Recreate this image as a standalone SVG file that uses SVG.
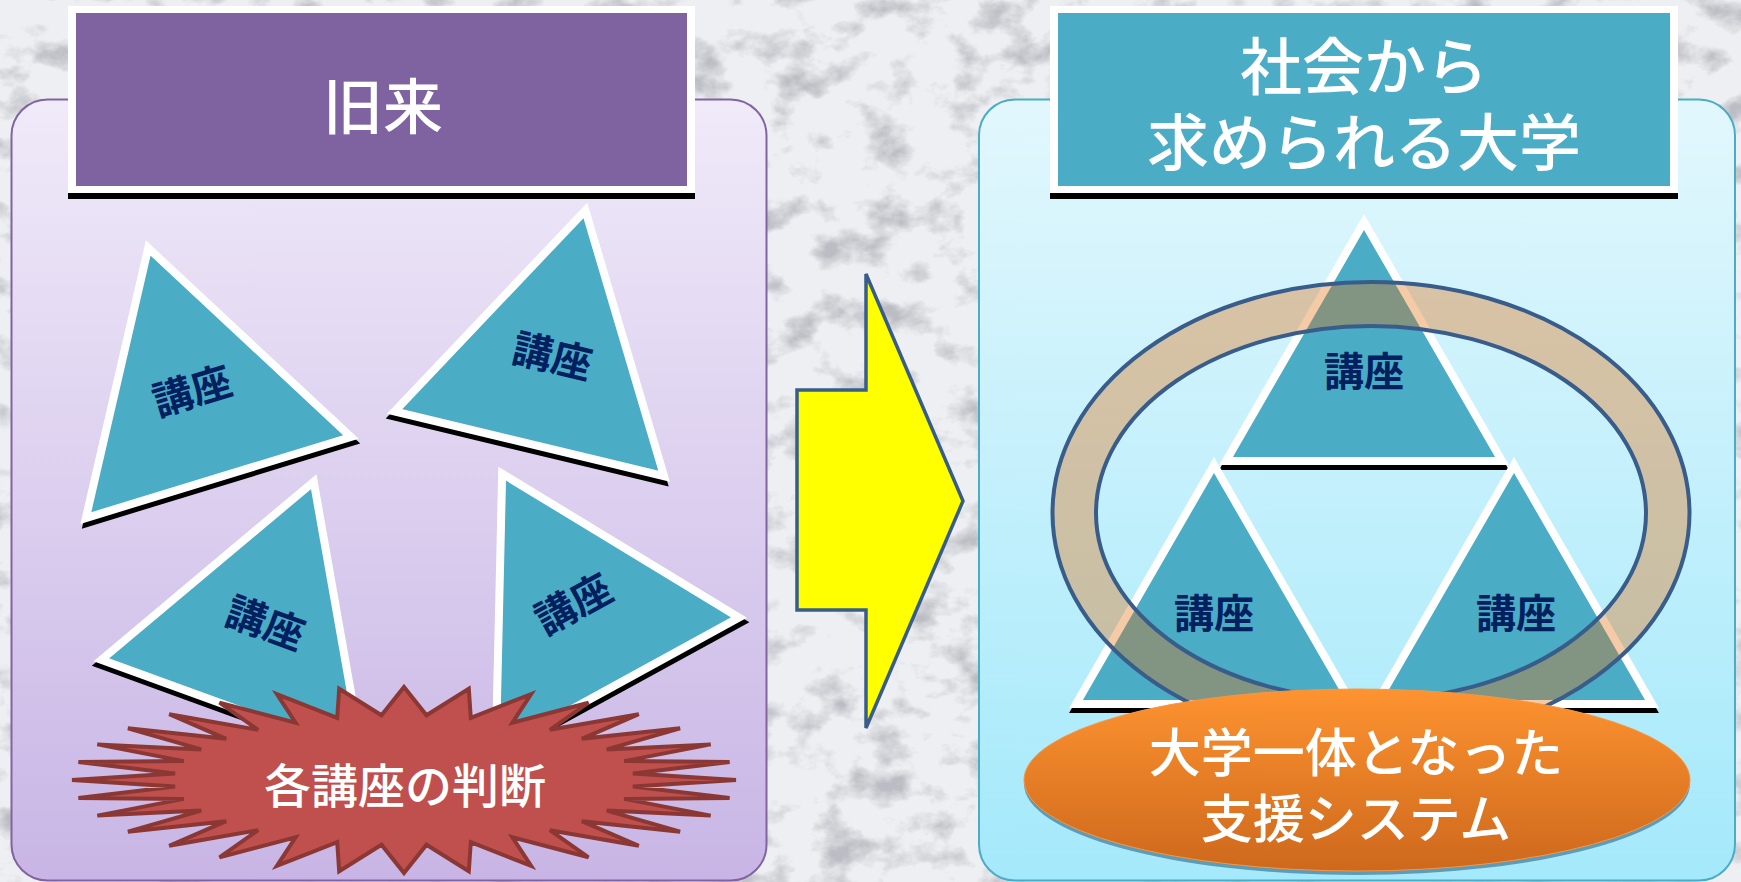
<svg xmlns="http://www.w3.org/2000/svg" width="1741" height="882" viewBox="0 0 1741 882">
<style>
.ttl{font-family:"Noto Sans CJK JP","Noto Sans CJK SC",sans-serif;font-weight:500;fill:#fff;text-anchor:middle}
.kz{font-family:"Noto Sans CJK JP","Noto Sans CJK SC",sans-serif;font-weight:bold;font-size:40px;fill:#002060;text-anchor:middle}
.tri{fill:#4BACC6;stroke:#fff;stroke-width:8;stroke-linejoin:miter}
.sh{fill:#000;stroke:#000;stroke-width:8;stroke-linejoin:miter}
.ring{fill:none;stroke:#385D8A;stroke-width:4}
</style>
<defs>
<linearGradient id="gL" x1="0" y1="0" x2="0" y2="1"><stop offset="0" stop-color="#F0EAF9"/><stop offset="1" stop-color="#C8B5E5"/></linearGradient>
<linearGradient id="gR" x1="0" y1="0" x2="0" y2="1"><stop offset="0" stop-color="#E2F7FD"/><stop offset="1" stop-color="#A4E9FB"/></linearGradient>
<linearGradient id="gO" x1="0" y1="0" x2="0" y2="1"><stop offset="0" stop-color="#FD9330"/><stop offset="1" stop-color="#CE681C"/></linearGradient>
<filter id="marble" x="0" y="0" width="1" height="1">
<feTurbulence type="fractalNoise" baseFrequency="0.022 0.03" numOctaves="5" seed="5"/>
<feColorMatrix type="matrix" values="0 0 0 0 0.50  0 0 0 0 0.51  0 0 0 0 0.55  -3.2 0 0 0 1.62"/>
</filter>
<polygon id="t" points="0,-160 138.6,80 -138.6,80"/>
<polygon id="t2" points="0,-159.3 138,79.6 -138,79.6"/>
</defs>
<rect width="1741" height="882" fill="#EEEFF2"/>
<rect width="1741" height="882" filter="url(#marble)"/>

<g id="left-panel">
<rect x="11.5" y="99.5" width="755" height="781" rx="36" fill="url(#gL)" stroke="#8064A2" stroke-width="2"/>
</g>
<g id="right-panel">
<rect x="979" y="99.5" width="756" height="781" rx="36" fill="url(#gR)" stroke="#4BACC6" stroke-width="2"/>
</g>

<g id="title-left">
<rect x="68" y="12" width="627" height="187" fill="#000"/>
<rect x="68" y="6" width="627" height="187" fill="#fff"/>
<rect x="76" y="13" width="611" height="173" fill="#7F63A1"/>
<text class="ttl" x="383" y="129" font-size="60">旧来</text>
</g>

<g id="title-right">
<rect x="1050" y="12" width="628" height="187" fill="#000"/>
<rect x="1050" y="6" width="628" height="187" fill="#fff"/>
<rect x="1058" y="13" width="612" height="173" fill="#4BACC6"/>
<text class="ttl" x="1364" y="90" font-size="62">社会から</text>
<text class="ttl" x="1364" y="166" font-size="62">求められる大学</text>
</g>

<g id="tri-a" transform="translate(195,401) rotate(-17)">
<use href="#t" class="sh" transform="translate(0,5)"/><use href="#t" class="tri"/>
<text class="kz" x="0" y="4">講座</text>
</g>
<g id="tri-b" transform="translate(548,366) rotate(13.5)">
<use href="#t" class="sh" transform="translate(0,5)"/><use href="#t" class="tri"/>
<text class="kz" x="2" y="4">講座</text>
</g>
<g id="tri-c" transform="translate(259,632) rotate(20)">
<use href="#t" class="sh" transform="translate(0,5)"/><use href="#t" class="tri"/>
<text class="kz" x="3" y="4">講座</text>
</g>
<g id="tri-d" transform="translate(579,614) rotate(-28.7)">
<use href="#t" class="sh" transform="translate(0,5)"/><use href="#t" class="tri"/>
<text class="kz" x="0" y="3">講座</text>
</g>

<g id="burst">
<polygon fill="#C0504D" stroke="#8B3835" stroke-width="4" stroke-linejoin="miter" points="736,780 632.9,786.4 729.6,798.1 624.1,798.9 710.7,815.6 606.8,810.6 680.1,831.7 581.8,821.2 638.8,845.8 549.9,830.2 588.5,857.3 512.4,837.3 531.1,865.9 470.8,842.2 468.8,871.2 426.5,844.7 404,873 381.5,844.7 339.2,871.2 337.2,842.2 276.9,865.9 295.6,837.3 219.5,857.3 258.1,830.2 169.2,845.8 226.2,821.2 127.9,831.7 201.2,810.6 97.3,815.6 183.9,798.9 78.4,798.1 175.1,786.4 72,780 175.1,773.6 78.4,761.9 183.9,761.1 97.3,744.4 201.2,749.4 127.9,728.3 226.2,738.8 169.2,714.2 258.1,729.8 219.5,702.7 295.6,722.7 276.9,694.1 337.2,717.8 339.2,688.8 381.5,715.3 404,687 426.5,715.3 468.8,688.8 470.8,717.8 531.1,694.1 512.4,722.7 588.5,702.7 549.9,729.8 638.8,714.2 581.8,738.8 680.1,728.3 606.8,749.4 710.7,744.4 624.1,761.1 729.6,761.9 632.9,773.6"/>
<text class="ttl" x="405" y="803" font-size="47">各講座の判断</text>
</g>

<g id="arrow">
<polygon points="797,390 866,390 866,274 963,501 866,728 866,610 797,610" fill="#FFFF00" stroke="#385D8A" stroke-width="3.5" stroke-linejoin="miter"/>
</g>

<g id="tri-top" transform="translate(1364,381.3)">
<use href="#t2" class="sh" transform="translate(0,5)"/><use href="#t2" class="tri"/>
<text class="kz" x="0" y="5">講座</text>
</g>
<g id="tri-bl" transform="translate(1214,624.3)">
<use href="#t2" class="sh" transform="translate(0,5)"/><use href="#t2" class="tri"/>
<text class="kz" x="0" y="4">講座</text>
</g>
<g id="tri-br" transform="translate(1514,624.3)">
<use href="#t2" class="sh" transform="translate(0,5)"/><use href="#t2" class="tri"/>
<text class="kz" x="2" y="4">講座</text>
</g>

<g id="ring">
<path d="M1052.5,513 a318.5,231 0 1,0 637,0 a318.5,231 0 1,0 -637,0 Z M1096.5,513 a275,187 0 1,0 550,0 a275,187 0 1,0 -550,0 Z" fill="#E46C0A" fill-opacity="0.36" fill-rule="evenodd"/>
<ellipse class="ring" cx="1371" cy="513" rx="318.5" ry="231"/>
<ellipse class="ring" cx="1371" cy="513" rx="275" ry="187"/>
</g>

<g id="support">
<ellipse cx="1357" cy="784" rx="333" ry="91" fill="#5D9CB4"/>
<ellipse cx="1357" cy="780" rx="333" ry="91" fill="url(#gO)" stroke="#F79646" stroke-width="1"/>
<text class="ttl" x="1356" y="772" font-size="52">大学一体となった</text>
<text class="ttl" x="1356" y="838" font-size="52">支援システム</text>
</g>
</svg>
